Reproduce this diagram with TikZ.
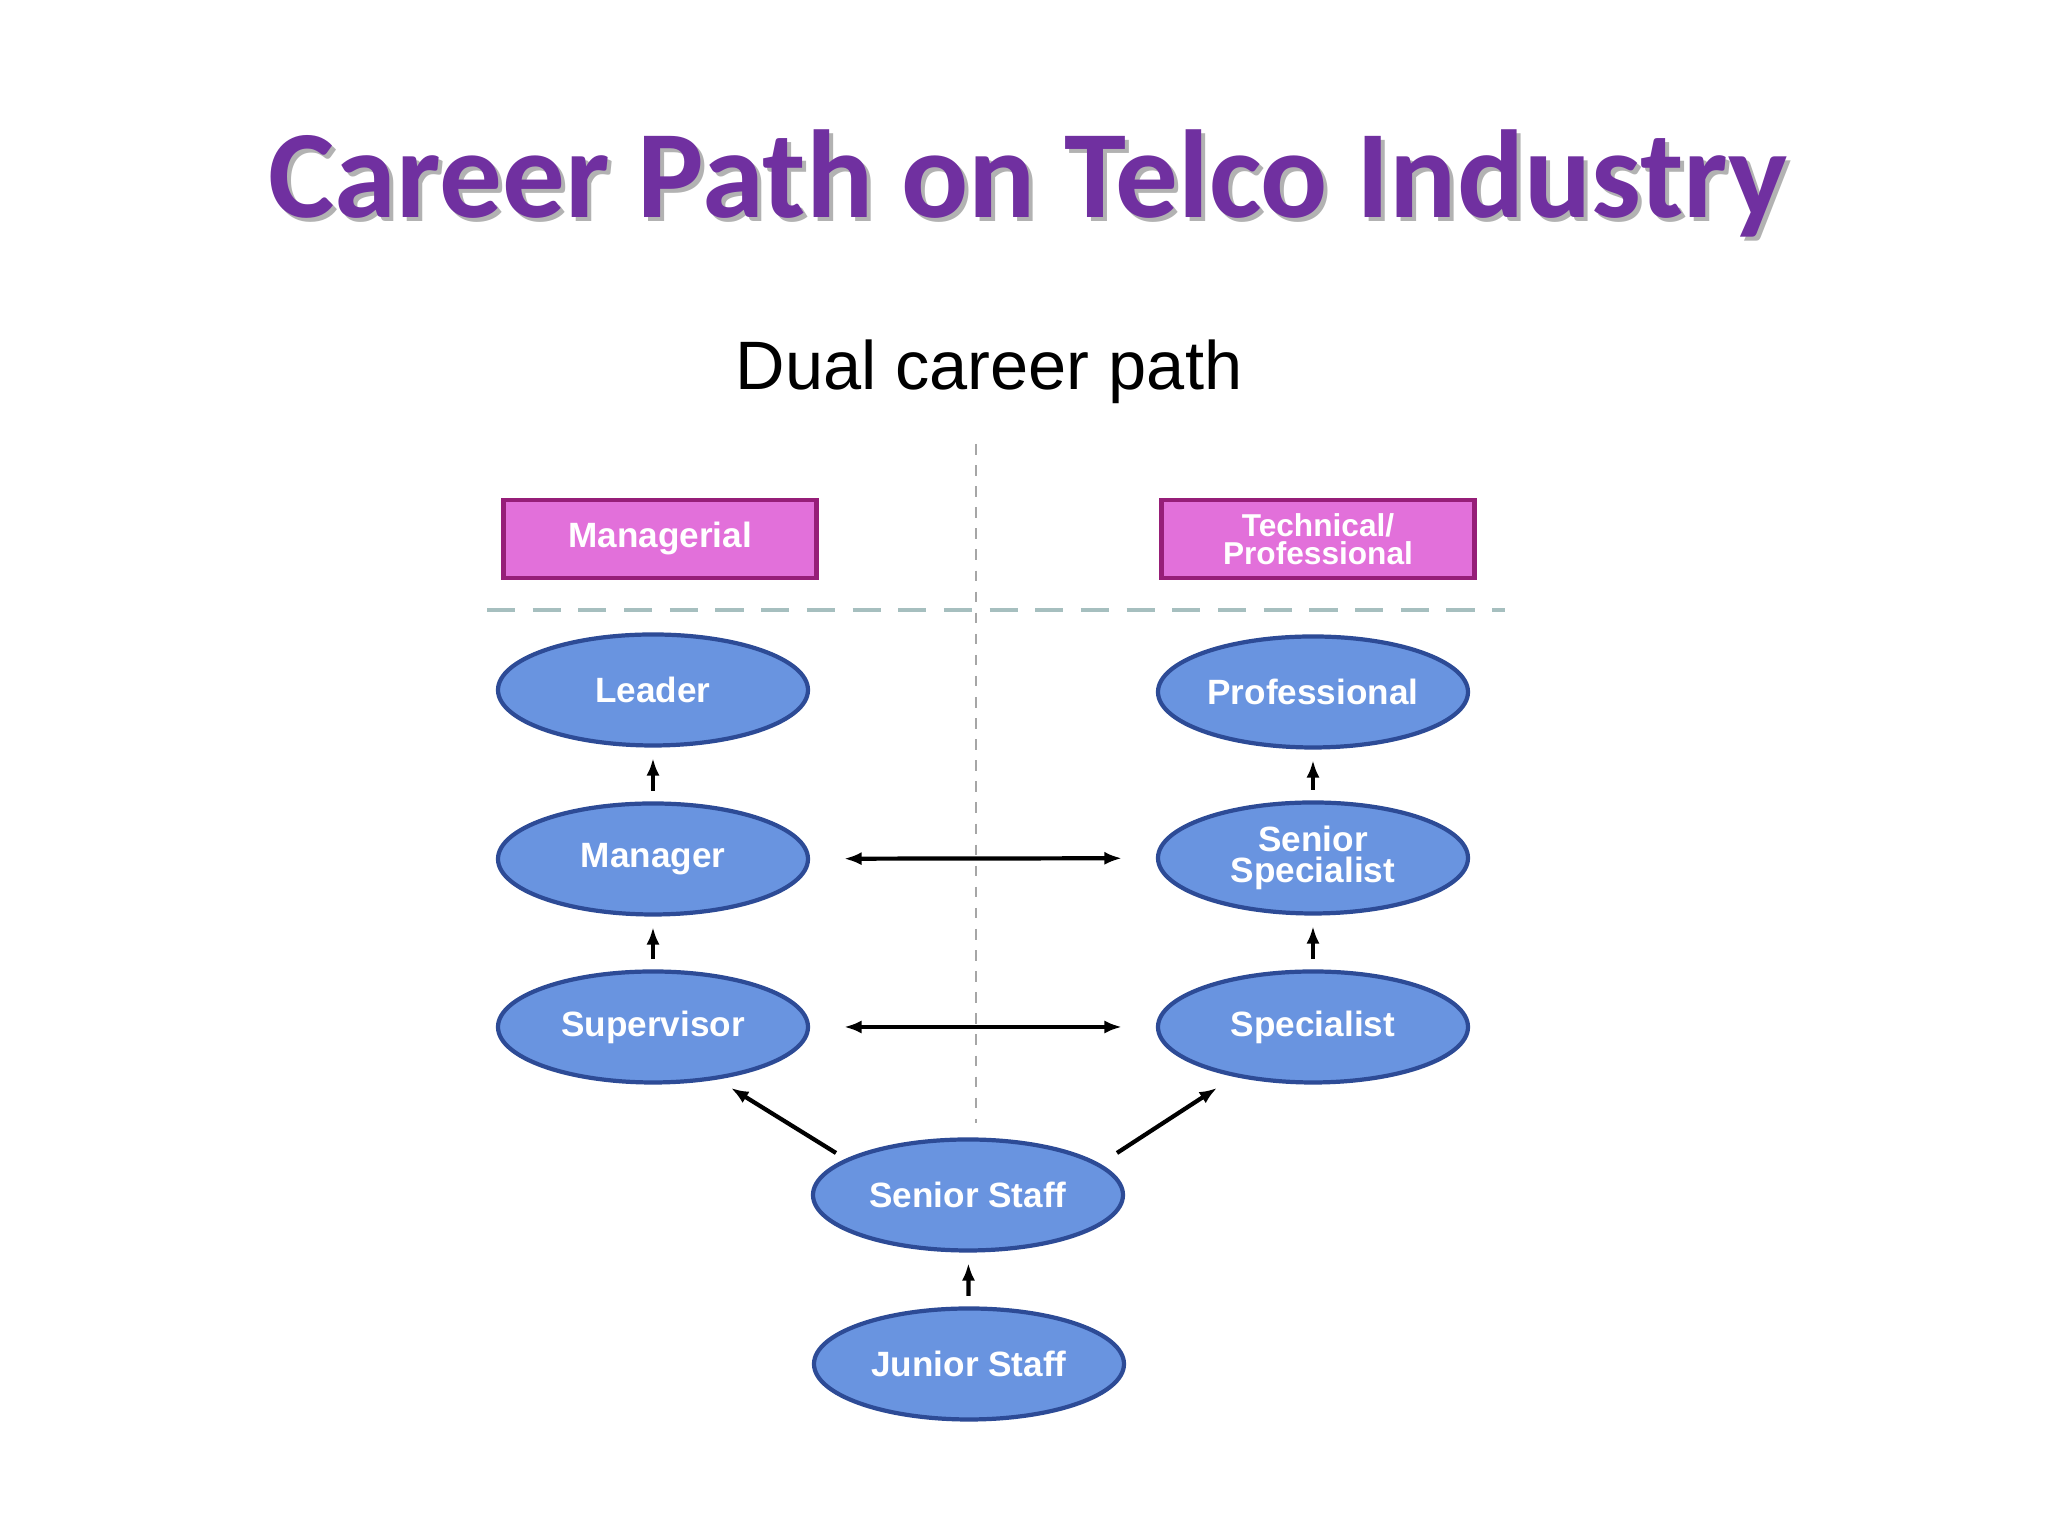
\documentclass[tikz,border=0pt]{standalone}
\usepackage{fontspec}
\setmainfont{Liberation Sans}
\newfontfamily\titlefont{Carlito}
\usetikzlibrary{positioning,shapes.geometric,arrows.meta,shadows}
\definecolor{titlepurple}{RGB}{112,48,160}
\definecolor{ellfill}{RGB}{105,148,224}
\definecolor{elldraw}{RGB}{45,75,150}
\definecolor{boxfill}{RGB}{226,112,218}
\definecolor{boxdraw}{RGB}{150,30,120}
\tikzset{
  level/.style={ellipse, draw=elldraw, line width=1.2pt, fill=ellfill, minimum width=3.1cm,
    minimum height=1.11cm, inner sep=0pt, text=white, font=\bfseries, align=center},
  track/.style={rectangle, draw=boxdraw, line width=1.2pt, fill=boxfill, minimum width=3.13cm,
    minimum height=0.78cm, inner sep=0pt, text=white, font=\bfseries, align=center},
  up/.style={-{Latex[length=5pt]}, line width=1.2pt, shorten >=3pt, shorten <=3pt},
  both/.style={{Latex[length=5pt]}-{Latex[length=5pt]}, line width=1.2pt, shorten >=0.34cm, shorten <=0.34cm}
}
\begin{document}
\begin{tikzpicture}
\useasboundingbox (0,0) rectangle (20.48,15.36);
\fill[white] (0,0) rectangle (20.48,15.36);
\node[font=\titlefont\bfseries\fontsize{35.6}{38}\selectfont, text=gray!60] at (10.32,13.49) {Career Path on Telco Industry};
\node[font=\titlefont\bfseries\fontsize{35.6}{38}\selectfont, text=titlepurple] (title) at (10.28,13.53) {Career Path on Telco Industry};
\node[font=\fontsize{19.5}{22}\selectfont] (sub) at (9.89,11.64) {Dual career path};
% dividers
\coordinate (vtop) at (9.76,10.92);
\coordinate (vbot) at (9.76,4.13);
\coordinate (hl) at (4.87,9.26);
\coordinate (hr) at (15.05,9.26);
\draw[dashed, gray!70, line width=0.8pt] (vtop) -- (vbot);
\draw[dashed, gray!60!teal!50, line width=1pt, dash pattern=on 8pt off 5pt] (hl) -- (hr);
% tracks
\node[track] (manag) at (6.60,9.97) {Managerial};
\node[track, font=\bfseries\small] (techn) at (13.18,9.97) {Technical/\\[-3pt]Professional};
% levels
\node[level] (leader) at (6.53,8.46) {Leader};
\node[level] (manager) at (6.53,6.77) {Manager};
\node[level] (superv) at (6.53,5.09) {Supervisor};
\node[level] (prof) at (13.13,8.44) {Professional};
\node[level] (senspec) at (13.13,6.78) {Senior\\[-3pt]Specialist};
\node[level] (spec) at (13.13,5.09) {Specialist};
\node[level] (senstaff) at (9.68,3.41) {Senior Staff};
\node[level] (junstaff) at (9.69,1.72) {Junior Staff};
% ends of the diagonal arrows
\coordinate (dlfrom) at (8.36,3.83);
\coordinate (dlto) at (7.31,4.48);
\coordinate (drfrom) at (11.17,3.83);
\coordinate (drto) at (12.17,4.48);

\draw[up] (manager) -- (leader);
\draw[up] (superv) -- (manager);
\draw[up] (senspec) -- (prof);
\draw[up] (spec) -- (senspec);
\draw[up] (junstaff) -- (senstaff);
\draw[both] (manager) -- (senspec);
\draw[both] (superv) -- (spec);
\draw[up, shorten <=0pt, shorten >=0pt] (dlfrom) -- (dlto);
\draw[up, shorten <=0pt, shorten >=0pt] (drfrom) -- (drto);
\end{tikzpicture}
\end{document}
